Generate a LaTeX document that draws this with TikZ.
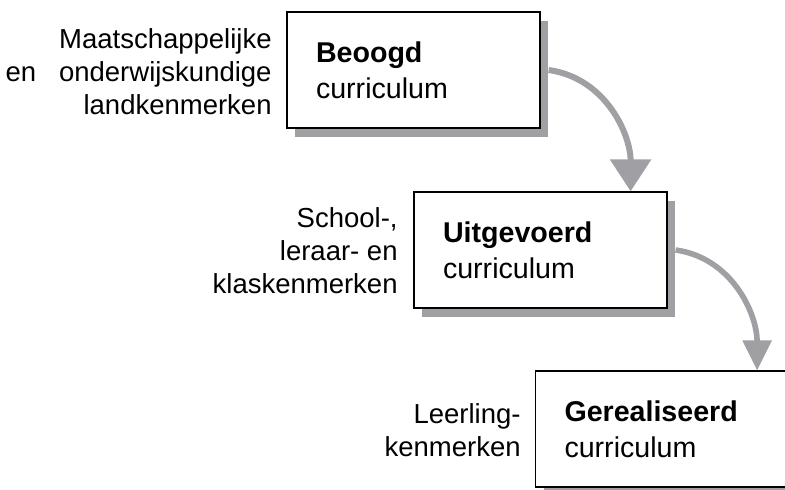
\documentclass[tikz,border=0pt]{standalone}
\usepackage{fontspec}
\setmainfont{Liberation Sans}
\usetikzlibrary{arrows.meta,shadows}
\definecolor{shadowgray}{RGB}{160,160,164}
\begin{document}
\begin{tikzpicture}[x=0.5pt,y=-0.5pt]
%%%%%%%%%%%%%%%%%%%%%%%%%%%%%%%%%%%%%%%%%%%%%%%%%%%%%%%%
% STYLE
\tikzstyle{box}=[rectangle,draw,line width=0.6pt,fill=white,
  text width=97.5pt,inner xsep=14.5pt,minimum height=58pt,align=left,
  font=\fontsize{14.3pt}{18pt}\selectfont,
  drop shadow={shadow xshift=4pt,shadow yshift=-4.5pt,fill=shadowgray,opacity=1}]
\tikzstyle{txt}=[anchor=east,inner sep=0pt,align=right,
  font=\fontsize{13.75pt}{16.5pt}\selectfont]
\tikzstyle{flow}=[draw=shadowgray,line width=3pt]

\useasboundingbox (0,0) rectangle (785,490);
%%%%%%%%%%%%%%%%%%%%%%%%%%%%%%%%%%%%%%%%%%%%%%%%%%%%%%%%
% NODES
\node[box] (B1) at (413.5,70) {\textbf{Beoogd}\\curriculum};
\node[box] (B2) at (540.5,250) {\textbf{Uitgevoerd}\\curriculum};
\node[box] (B3) at (662,429) {\textbf{Gerealiseerd}\\curriculum};

\node[txt] (t1) at (272,72) {Maatschappelijke\\en\hspace{11.5pt}onderwijskundige\\landkenmerken};
\node[txt] (t2) at (398,251) {School-,\\leraar- en\\klaskenmerken};
\node[txt] (t3) at (521,430) {Leerling-\\kenmerken};
%%%%%%%%%%%%%%%%%%%%%%%%%%%%%%%%%%%%%%%%%%%%%%%%%%%%%%%%
% LINKS
\draw[flow,-{Triangle[width=20pt,length=16pt]}] ([xshift=4pt]B1.east) to[out=-8,in=90] ([xshift=-18.5pt]B2.north east);
\draw[flow,line width=2.8pt,-{Triangle[width=14pt,length=15pt]}] ([xshift=4pt]B2.east) to[out=-8,in=90] ([xshift=-16pt]B3.north east);

\end{tikzpicture}
\end{document}
